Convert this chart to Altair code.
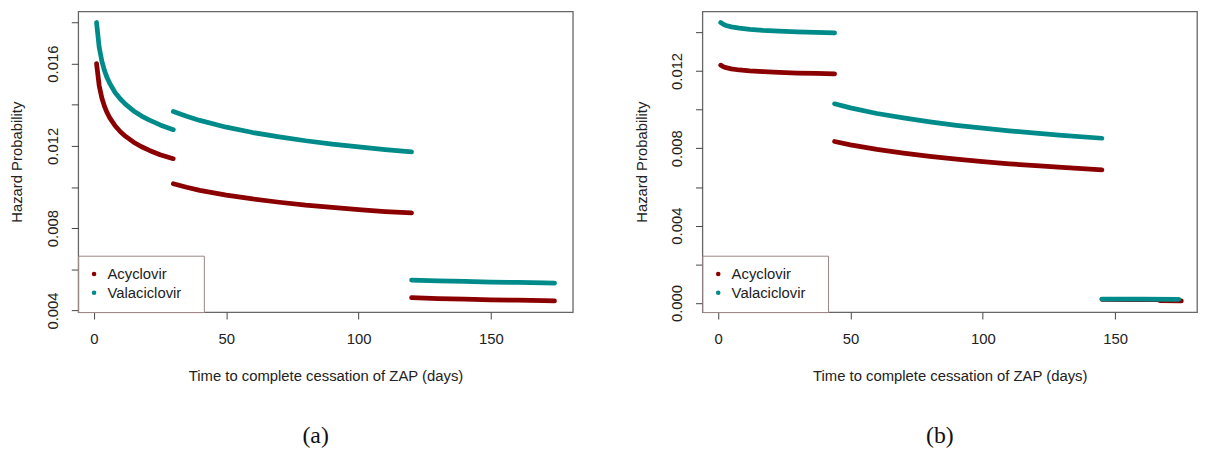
import altair as alt
import pandas as pd

drugs = ["Acyclovir", "Valaciclovir"]
colors = ["#8B0000", "#008B8B"]

# ---------------- Panel (a) ----------------
a_seg1_days = [1, 2, 3, 4, 5, 6, 8, 10, 12, 15, 18, 21, 25, 30]
a_acy_seg1 = [0.01600, 0.01493, 0.01433, 0.01392, 0.01361, 0.01336, 0.01298,
              0.01269, 0.01246, 0.01218, 0.01196, 0.01178, 0.01157, 0.01138]
a_val_seg1 = [0.01800, 0.01679, 0.01612, 0.01566, 0.01531, 0.01503, 0.01460,
              0.01428, 0.01402, 0.01370, 0.01345, 0.01325, 0.01302, 0.01279]
a_seg2_days = [30, 35, 40, 50, 60, 70, 80, 90, 100, 110, 120]
a_acy_seg2 = [0.01016, 0.00999, 0.00984, 0.00961, 0.00942, 0.00926, 0.00912,
              0.00901, 0.00890, 0.00881, 0.00874]
a_val_seg2 = [0.01367, 0.01344, 0.01324, 0.01291, 0.01265, 0.01244, 0.01225,
              0.01209, 0.01195, 0.01182, 0.01171]
a_seg3_days = [120, 130, 140, 150, 160, 170, 174]
a_acy_seg3 = [0.00462, 0.00458, 0.00455, 0.00452, 0.00450, 0.00448, 0.00446]
a_val_seg3 = [0.00548, 0.00544, 0.00541, 0.00538, 0.00536, 0.00534, 0.00533]

# ---------------- Panel (b) ----------------
b_seg1_days = [1, 2, 3, 5, 8, 12, 17, 23, 30, 37, 44]
b_acy_seg1 = [0.01230, 0.01222, 0.01217, 0.01211, 0.01205, 0.01200, 0.01196,
              0.01193, 0.01189, 0.01187, 0.01185]
b_val_seg1 = [0.01450, 0.01441, 0.01435, 0.01428, 0.01421, 0.01415, 0.01410,
              0.01406, 0.01402, 0.01399, 0.01397]
b_seg2_days = [44, 50, 60, 70, 80, 90, 100, 110, 120, 130, 145]
b_acy_seg2 = [0.00835, 0.00818, 0.00794, 0.00775, 0.00758, 0.00744, 0.00731,
              0.00720, 0.00710, 0.00701, 0.00689]
b_val_seg2 = [0.01030, 0.01009, 0.00980, 0.00957, 0.00937, 0.00919, 0.00904,
              0.00890, 0.00878, 0.00867, 0.00852]
b_acy_seg3_days = [145, 155, 166, 167, 175]
b_acy_seg3 = [0.00019, 0.00018, 0.00018, 0.00012, 0.00011]
b_val_seg3_days = [145, 160, 174]
b_val_seg3 = [0.00020, 0.00020, 0.00019]

x_ticks = [0, 50, 100, 150]
a_y_ticks = [0.004, 0.006, 0.008, 0.010, 0.012, 0.014, 0.016, 0.018]
a_y_labels = ["0.004", "0.008", "0.012", "0.016"]
b_y_ticks = [0.000, 0.002, 0.004, 0.006, 0.008, 0.010, 0.012, 0.014]
b_y_labels = ["0.000", "0.004", "0.008", "0.012"]

x_domain = [-5.92, 180.92]
a_y_domain = [0.00392, 0.01854]
b_y_domain = [-0.00047, 0.01508]


def build(series):
    rows = []
    for drug, seg, days, vals in series:
        for d, v in zip(days, vals):
            rows.append({"day": d, "hazard": v, "drug": drug, "seg": seg})
    return pd.DataFrame(rows)


df_a = build([
    ("Acyclovir", 1, a_seg1_days, a_acy_seg1),
    ("Acyclovir", 2, a_seg2_days, a_acy_seg2),
    ("Acyclovir", 3, a_seg3_days, a_acy_seg3),
    ("Valaciclovir", 1, a_seg1_days, a_val_seg1),
    ("Valaciclovir", 2, a_seg2_days, a_val_seg2),
    ("Valaciclovir", 3, a_seg3_days, a_val_seg3),
])
df_b = build([
    ("Acyclovir", 1, b_seg1_days, b_acy_seg1),
    ("Acyclovir", 2, b_seg2_days, b_acy_seg2),
    ("Acyclovir", 3, b_acy_seg3_days, b_acy_seg3),
    ("Valaciclovir", 1, b_seg1_days, b_val_seg1),
    ("Valaciclovir", 2, b_seg2_days, b_val_seg2),
    ("Valaciclovir", 3, b_val_seg3_days, b_val_seg3),
])

FONT = "Liberation Sans"
W, H = 500, 304
BLANK = "\u2800"  # blank glyph that widens the legend box like R's legend


def panel(df, y_domain, y_ticks, y_labels, caption):
    label_expr = "indexof([" + ",".join("'%s'" % s for s in y_labels) + "], datum.label) >= 0 ? datum.label : ''"
    return alt.Chart(df).mark_line(
        strokeWidth=4.8, strokeCap="round", strokeJoin="round"
    ).encode(
        x=alt.X("day:Q",
                scale=alt.Scale(domain=x_domain, nice=False, zero=False),
                axis=alt.Axis(values=x_ticks, title="Time to complete cessation of ZAP (days)",
                              labelBaseline="top", labelPadding=13, labelFlush=False,
                              labelOverlap=False, titleX=W / 2, titleY=69,
                              titleBaseline="alphabetic")),
        y=alt.Y("hazard:Q",
                scale=alt.Scale(domain=y_domain, nice=False, zero=False),
                axis=alt.Axis(values=y_ticks, format=".3f", labelExpr=label_expr,
                              title="Hazard Probability", labelAngle=270,
                              labelAlign="center", labelBaseline="alphabetic",
                              labelPadding=14, labelFlush=False, labelOverlap=False,
                              titleAngle=270, titleAlign="center",
                              titleBaseline="alphabetic", titleX=-57, titleY=H / 2)),
        color=alt.Color("drug:N",
                        scale=alt.Scale(domain=drugs, range=colors),
                        legend=alt.Legend(title=None,
                                          orient="bottom-left", offset=0,
                                          padding=11, strokeColor="#9a8585",
                                          fillColor="white", symbolType="circle",
                                          symbolSize=5, symbolStrokeWidth=2.4,
                                          symbolOffset=-2.5, labelOffset=6,
                                          labelFont=FONT, labelFontSize=15,
                                          labelColor="#222222", rowPadding=3,
                                          labelExpr="datum.label + '" + BLANK + "'")),
        detail="seg:N",
    ).properties(
        width=W, height=H,
        title=alt.TitleParams(caption, orient="bottom", anchor="middle", frame="group",
                              font="Liberation Serif", fontSize=24, fontWeight="normal",
                              color="#111111", dx=-10, offset=41),
    )


chart_a = panel(df_a, a_y_domain, a_y_ticks, a_y_labels, "(a)")
chart_b = panel(df_b, b_y_domain, b_y_ticks, b_y_labels, "(b)")

chart = alt.hconcat(chart_a, chart_b, spacing=131, bounds="flush").resolve_scale(
    color="independent"
).resolve_legend(
    color="independent"
).properties(
    padding={"left": 1, "top": 0, "right": 0, "bottom": 0}
).configure_view(
    stroke="#666666", strokeWidth=1.3
).configure_axis(
    labelFont=FONT, labelFontSize=15, labelColor="#222222",
    titleFont=FONT, titleFontSize=15, titleFontWeight="normal", titleColor="#222222",
    tickColor="#444444", tickSize=7, tickWidth=1, domain=False, grid=False,
)

chart.save("out.html", embed_options={"renderer": "svg", "actions": False})
